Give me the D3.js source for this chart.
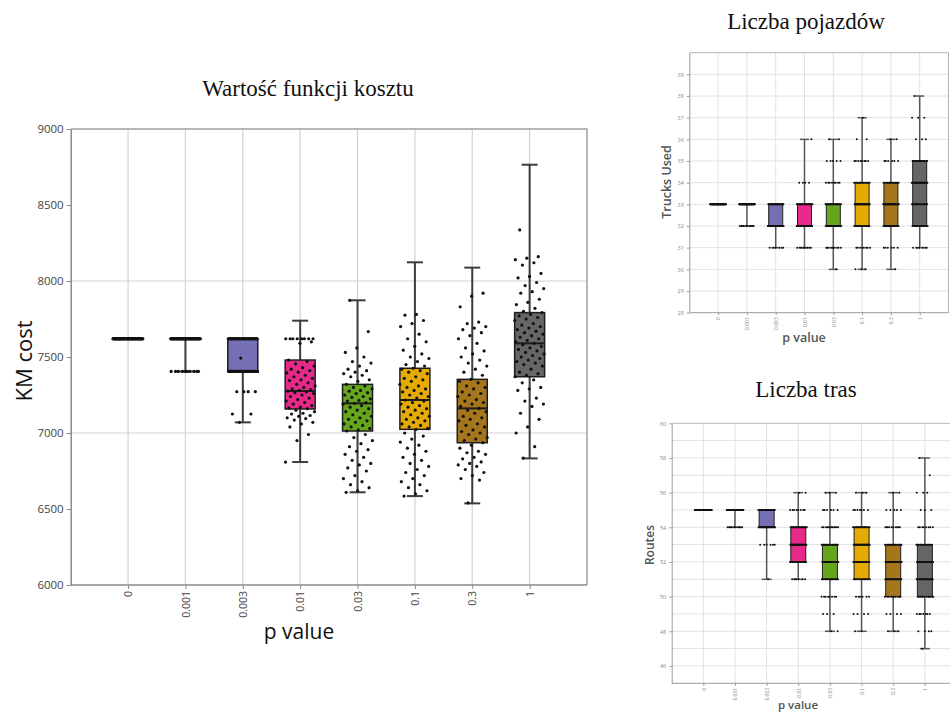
<!DOCTYPE html>
<html>
<head>
<meta charset="utf-8">
<script src="https://cdn.jsdelivr.net/npm/d3@7"></script>
<style>
  body { margin: 0; background: #fff; }
  svg { display: block; }
</style>
</head>
<body>
<svg id="chart" width="950" height="713"></svg>
<script>
// ---- categories and colours ----
const pValues = ["0", "0.001", "0.003", "0.01", "0.03", "0.1", "0.3", "1"];
const boxColors = ["#1b9e77", "#d95f02", "#7570b3", "#e7298a", "#66a61e", "#e6ab02", "#a6761d", "#666666"];

function times(v, n) { return Array(n).fill(v); }
function expand(pairs) { return pairs.flatMap(([v, n]) => times(v, n)); }

// ---- KM cost (box statistics) ----
const kmLow    = [7620, 7405, 7070, 6809, 6610, 6585, 6537, 6833];
const kmQ1     = [7620, 7620, 7405, 7158, 7013, 7024, 6936, 7370];
const kmMedian = [7620, 7620, 7620, 7276, 7195, 7217, 7162, 7590];
const kmQ3     = [7620, 7620, 7620, 7480, 7320, 7426, 7353, 7792];
const kmHigh   = [7620, 7620, 7620, 7739, 7873, 8123, 8088, 8765];

// ---- KM cost (individual runs) ----
const kmRuns0    = times(7620, 100);
const kmRuns0001 = [...times(7620, 90), ...times(7405, 10)];
const kmRuns0003 = [...times(7620, 45), 7493, ...times(7405, 35), 7272, 7272, 7272, 7272, 7125, 7125, 7070];
const kmRuns001  = [...times(7620, 8), 7600, 7590, 7480, 7470, 7455, 7440, 7430, 7420, 7410, 7400, 7395, 7380, 7370, 7360,
  7350, 7345, 7330, 7320, 7310, 7300, 7290, 7285, 7280, 7276, 7270, 7265, 7260, 7250, 7240, 7230, 7220, 7210, 7200,
  7190, 7180, 7170, 7165, 7160, 7150, 7140, 7130, 7125, 7115, 7110, 7100, 7095, 7085, 7070, 7060, 7040, 6990, 6950, 6809];
const kmRuns003  = [7873, 7667, 7560, 7530, 7500, 7470, 7460, 7440, 7420, 7410, 7400, 7390, 7380, 7370, 7350, 7340, 7320,
  7310, 7300, 7290, 7280, 7275, 7265, 7260, 7250, 7240, 7235, 7225, 7215, 7210, 7200, 7195, 7190, 7180, 7170, 7160,
  7150, 7140, 7130, 7120, 7110, 7100, 7090, 7080, 7070, 7060, 7050, 7040, 7030, 7020, 7013, 6990, 6970, 6950, 6930,
  6910, 6890, 6880, 6860, 6840, 6820, 6800, 6790, 6770, 6750, 6720, 6700, 6680, 6660, 6640, 6620, 6610];
const kmRuns01   = [7780, 7775, 7740, 7720, 7700, 7650, 7620, 7600, 7570, 7545, 7520, 7500, 7490, 7470, 7450, 7440, 7426,
  7420, 7410, 7400, 7390, 7370, 7360, 7350, 7340, 7320, 7310, 7300, 7290, 7280, 7270, 7260, 7250, 7240, 7230, 7217,
  7210, 7200, 7190, 7180, 7170, 7160, 7150, 7140, 7130, 7120, 7110, 7100, 7090, 7080, 7070, 7060, 7050, 7040, 7030,
  7024, 7000, 6980, 6960, 6940, 6920, 6900, 6880, 6860, 6840, 6820, 6800, 6780, 6760, 6740, 6720, 6700, 6680, 6660,
  6640, 6620, 6600, 6585];
const kmRuns03   = [7920, 7900, 7830, 7730, 7720, 7700, 7690, 7680, 7660, 7640, 7620, 7590, 7560, 7540, 7520, 7500, 7480,
  7460, 7440, 7420, 7400, 7380, 7353, 7340, 7330, 7310, 7300, 7290, 7270, 7260, 7250, 7240, 7220, 7210, 7200, 7190,
  7175, 7162, 7150, 7140, 7130, 7110, 7100, 7090, 7080, 7060, 7050, 7040, 7020, 7010, 7000, 6990, 6970, 6960, 6950,
  6936, 6920, 6900, 6880, 6870, 6860, 6840, 6830, 6810, 6800, 6790, 6780, 6760, 6740, 6720, 6700, 6690, 6540];
const kmRuns1    = [8336, 8160, 8150, 8140, 8120, 8105, 8050, 8030, 8020, 7990, 7970, 7950, 7930, 7920, 7880, 7860, 7845,
  7820, 7800, 7792, 7780, 7770, 7760, 7750, 7740, 7720, 7710, 7700, 7690, 7680, 7670, 7660, 7650, 7640, 7630, 7620,
  7610, 7600, 7590, 7580, 7570, 7560, 7550, 7540, 7530, 7520, 7510, 7500, 7490, 7480, 7470, 7460, 7450, 7440, 7420,
  7400, 7390, 7380, 7370, 7350, 7330, 7300, 7290, 7280, 7230, 7210, 7190, 7175, 7130, 7090, 7040, 7000, 6910, 6835];
const kmTicks = [6000, 6500, 7000, 7500, 8000, 8500, 9000];

// ---- Trucks used ----
const trucksLow    = [33, 32, 31, 31, 30, 30, 30, 31];
const trucksQ1     = [33, 33, 32, 32, 32, 32, 32, 32];
const trucksMedian = [33, 33, 32, 32, 32, 33, 33, 34];
const trucksQ3     = [33, 33, 33, 33, 33, 34, 34, 35];
const trucksHigh   = [33, 33, 33, 36, 36, 37, 36, 38];
const trucksCounts = [
  [[33, 60]],
  [[33, 50], [32, 10]],
  [[33, 30], [32, 40], [31, 6]],
  [[36, 1], [34, 4], [33, 25], [32, 40], [31, 8]],
  [[36, 2], [35, 5], [34, 8], [33, 25], [32, 30], [31, 10], [30, 1]],
  [[37, 1], [36, 2], [35, 8], [34, 15], [33, 30], [32, 20], [31, 8], [30, 3]],
  [[36, 2], [35, 6], [34, 15], [33, 30], [32, 25], [31, 6], [30, 1]],
  [[38, 1], [37, 3], [36, 3], [35, 15], [34, 25], [33, 20], [32, 15], [31, 6]]
];
const trucksTicks = [28, 29, 30, 31, 32, 33, 34, 35, 36, 37, 38, 39];

// ---- Routes ----
const routesLow    = [55, 54, 51, 51, 48, 48, 48, 47];
const routesQ1     = [55, 55, 54, 52, 51, 51, 50, 50];
const routesMedian = [55, 55, 55, 53, 52, 53, 52, 52];
const routesQ3     = [55, 55, 55, 54, 53, 54, 53, 53];
const routesHigh   = [55, 55, 55, 56, 56, 56, 56, 58];
const routesCounts = [
  [[55, 60]],
  [[55, 50], [54, 10]],
  [[55, 40], [54, 30], [53, 6], [51, 1]],
  [[56, 2], [55, 8], [54, 20], [53, 25], [52, 20], [51, 6]],
  [[56, 3], [55, 6], [54, 12], [53, 20], [52, 25], [51, 18], [50, 8], [49, 3], [48, 2]],
  [[56, 3], [55, 7], [54, 18], [53, 22], [52, 22], [51, 15], [50, 6], [49, 4], [48, 2]],
  [[56, 2], [55, 5], [54, 10], [53, 18], [52, 24], [51, 22], [50, 10], [49, 4], [48, 3]],
  [[58, 1], [57, 1], [56, 3], [55, 3], [54, 8], [53, 16], [52, 22], [51, 22], [50, 12], [49, 7], [48, 4], [47, 1]]
];
const routesTicks = [46, 48, 50, 52, 54, 56, 58, 60];

const svg = d3.select("#chart");

// Draws one box-and-jitter panel.
function drawPanel(cfg) {
  const x = d3.scalePoint().domain(pValues).range([cfg.left, cfg.right]).padding(1);
  const y = d3.scaleLinear().domain(cfg.domain).range([cfg.bottom, cfg.top]);
  const g = svg.append("g");

  // grid
  g.append("g").selectAll("line").data(pValues).join("line")
    .attr("x1", d => x(d)).attr("x2", d => x(d))
    .attr("y1", cfg.top).attr("y2", cfg.bottom)
    .attr("stroke", cfg.gridColor).attr("stroke-width", cfg.gridWidth);
  g.append("g").selectAll("line").data(cfg.gridY).join("line")
    .attr("x1", cfg.left).attr("x2", cfg.right)
    .attr("y1", d => y(d)).attr("y2", d => y(d))
    .attr("stroke", cfg.gridColor).attr("stroke-width", cfg.gridWidth);

  // frame (top and right)
  g.append("path")
    .attr("d", `M${cfg.left},${cfg.top}H${cfg.right}V${cfg.bottom}`)
    .attr("fill", "none").attr("stroke", cfg.frameColor).attr("stroke-width", cfg.frameWidth);

  // axes
  const ya = g.append("g").attr("transform", `translate(${cfg.left},0)`)
    .call(d3.axisLeft(y).tickValues(cfg.yTicks).tickSize(cfg.tickSize).tickSizeOuter(0).tickFormat(d3.format("d")));
  ya.select(".domain").attr("stroke", cfg.axisColor).attr("stroke-width", cfg.axisWidth);
  ya.selectAll(".tick line").attr("stroke", cfg.axisColor);
  ya.selectAll(".tick text").attr("fill", cfg.tickColor).style("font-family", "Open Sans")
    .style("font-size", cfg.yTickFont + "px");

  const xa = g.append("g").attr("transform", `translate(0,${cfg.bottom})`)
    .call(d3.axisBottom(x).tickSize(cfg.tickSize).tickSizeOuter(0));
  xa.select(".domain").attr("stroke", cfg.axisColor).attr("stroke-width", cfg.axisWidth)
    .attr("d", `M${cfg.left},0H${cfg.axisRight}`);
  xa.selectAll(".tick line").attr("stroke", cfg.axisColor);
  xa.selectAll(".tick text")
    .attr("fill", cfg.tickColor).style("font-family", "Open Sans").style("font-size", cfg.xTickFont + "px")
    .attr("x", -(cfg.tickSize + 2)).attr("y", 0).attr("dy", "0.35em")
    .attr("transform", "rotate(-90)").style("text-anchor", "end");

  // boxes
  const bw = cfg.boxWidth, cw = cfg.capWidth;
  pValues.forEach((p, i) => {
    const cx = x(p);
    const bg = g.append("g");
    if (cfg.low[i] < cfg.q1[i]) {
      bg.append("line").attr("x1", cx).attr("x2", cx).attr("y1", y(cfg.q1[i])).attr("y2", y(cfg.low[i]))
        .attr("stroke", cfg.whiskerColor).attr("stroke-width", cfg.whiskerWidth);
      bg.append("line").attr("x1", cx - cw / 2).attr("x2", cx + cw / 2).attr("y1", y(cfg.low[i])).attr("y2", y(cfg.low[i]))
        .attr("stroke", cfg.whiskerColor).attr("stroke-width", cfg.whiskerWidth);
    }
    if (cfg.high[i] > cfg.q3[i]) {
      bg.append("line").attr("x1", cx).attr("x2", cx).attr("y1", y(cfg.q3[i])).attr("y2", y(cfg.high[i]))
        .attr("stroke", cfg.whiskerColor).attr("stroke-width", cfg.whiskerWidth);
      bg.append("line").attr("x1", cx - cw / 2).attr("x2", cx + cw / 2).attr("y1", y(cfg.high[i])).attr("y2", y(cfg.high[i]))
        .attr("stroke", cfg.whiskerColor).attr("stroke-width", cfg.whiskerWidth);
    }
    bg.append("rect")
      .attr("x", cx - bw / 2).attr("width", bw)
      .attr("y", y(cfg.q3[i])).attr("height", Math.max(0, y(cfg.q1[i]) - y(cfg.q3[i])))
      .attr("fill", boxColors[i]).attr("stroke", cfg.boxStroke).attr("stroke-width", cfg.boxStrokeWidth);
    bg.append("line").attr("x1", cx - bw / 2).attr("x2", cx + bw / 2)
      .attr("y1", y(cfg.median[i])).attr("y2", y(cfg.median[i]))
      .attr("stroke", cfg.boxStroke).attr("stroke-width", cfg.medianWidth);
  });

  // individual runs, spread sideways around each category
  pValues.forEach((p, i) => {
    const vals = cfg.runs[i];
    g.append("g").selectAll("circle").data(vals).join("circle")
      .attr("cx", (d, j) => x(p) + (((j * 0.6180339887 + i * 0.31) % 1) - 0.5) * cfg.jitter)
      .attr("cy", d => y(d))
      .attr("r", cfg.pointR)
      .attr("fill", "#111");
  });

  return { x, y };
}

// ---- main panel: KM cost ----
drawPanel({
  left: 70.7, right: 587, top: 129, bottom: 585, axisRight: 587,
  domain: [6000, 9000], yTicks: kmTicks, gridY: [7000, 8000],
  low: kmLow, q1: kmQ1, median: kmMedian, q3: kmQ3, high: kmHigh,
  runs: [kmRuns0, kmRuns0001, kmRuns0003, kmRuns001, kmRuns003, kmRuns01, kmRuns03, kmRuns1],
  gridColor: "#d2d2d2", gridWidth: 1.2, frameColor: "#a0a0a0", frameWidth: 1.5,
  axisColor: "#8a8a8a", axisWidth: 1.5, tickColor: "#444", tickSize: 4,
  yTickFont: 11.5, xTickFont: 10.5,
  boxWidth: 30, capWidth: 16, whiskerColor: "#3c3c3c", whiskerWidth: 2,
  boxStroke: "#1e1e1e", boxStrokeWidth: 1.5, medianWidth: 2,
  jitter: 30, pointR: 1.6
});

// ---- top right: trucks used ----
drawPanel({
  left: 689.3, right: 948.5, top: 52.7, bottom: 312.7, axisRight: 948.5,
  domain: [28, 40], yTicks: trucksTicks, gridY: d3.range(29, 40),
  low: trucksLow, q1: trucksQ1, median: trucksMedian, q3: trucksQ3, high: trucksHigh,
  runs: trucksCounts.map(expand),
  gridColor: "#e2e2e2", gridWidth: 1, frameColor: "#b5b5b5", frameWidth: 1,
  axisColor: "#9a9a9a", axisWidth: 1, tickColor: "#888", tickSize: 2.5,
  yTickFont: 5.5, xTickFont: 5,
  boxWidth: 14, capWidth: 9, whiskerColor: "#555", whiskerWidth: 1.5,
  boxStroke: "#1e1e1e", boxStrokeWidth: 1, medianWidth: 1.6,
  jitter: 16, pointR: 1
});

// ---- bottom right: routes ----
drawPanel({
  left: 671.7, right: 956.5, top: 423.3, bottom: 683.3, axisRight: 956.5,
  domain: [45, 60], yTicks: routesTicks, gridY: d3.range(46, 60),
  low: routesLow, q1: routesQ1, median: routesMedian, q3: routesQ3, high: routesHigh,
  runs: routesCounts.map(expand),
  gridColor: "#e2e2e2", gridWidth: 1, frameColor: "#b5b5b5", frameWidth: 1,
  axisColor: "#9a9a9a", axisWidth: 1, tickColor: "#888", tickSize: 2.5,
  yTickFont: 5.5, xTickFont: 5,
  boxWidth: 15, capWidth: 10, whiskerColor: "#555", whiskerWidth: 1.5,
  boxStroke: "#1e1e1e", boxStrokeWidth: 1, medianWidth: 1.6,
  jitter: 17, pointR: 1
});

// ---- titles and axis labels ----
const serif = "'Liberation Serif', 'Times New Roman', serif";
const sans = "'Open Sans', sans-serif";

svg.append("text").attr("x", 308).attr("y", 96).attr("text-anchor", "middle")
  .style("font-family", serif).style("font-size", "23px").attr("fill", "#111")
  .text("Wartość funkcji kosztu");
svg.append("text").attr("x", 806).attr("y", 29).attr("text-anchor", "middle")
  .style("font-family", serif).style("font-size", "23px").attr("fill", "#111")
  .text("Liczba pojazdów");
svg.append("text").attr("x", 806).attr("y", 397).attr("text-anchor", "middle")
  .style("font-family", serif).style("font-size", "23px").attr("fill", "#111")
  .text("Liczba tras");

svg.append("text").attr("transform", "translate(32,361) rotate(-90)").attr("text-anchor", "middle")
  .style("font-family", sans).style("font-size", "22px").attr("fill", "#111").text("KM cost");
svg.append("text").attr("x", 299).attr("y", 639).attr("text-anchor", "middle")
  .style("font-family", sans).style("font-size", "21px").attr("fill", "#111").text("p value");

svg.append("text").attr("transform", "translate(671,182) rotate(-90)").attr("text-anchor", "middle")
  .style("font-family", sans).style("font-size", "12.5px").style("font-weight", "600").attr("fill", "#555").text("Trucks Used");
svg.append("text").attr("x", 804).attr("y", 342).attr("text-anchor", "middle")
  .style("font-family", sans).style("font-size", "12.5px").style("font-weight", "600").attr("fill", "#555").text("p value");

svg.append("text").attr("transform", "translate(654,545) rotate(-90)").attr("text-anchor", "middle")
  .style("font-family", sans).style("font-size", "12px").style("font-weight", "600").attr("fill", "#555").text("Routes");
svg.append("text").attr("x", 798).attr("y", 709).attr("text-anchor", "middle")
  .style("font-family", sans).style("font-size", "11.5px").style("font-weight", "600").attr("fill", "#555").text("p value");
</script>
</body>
</html>
